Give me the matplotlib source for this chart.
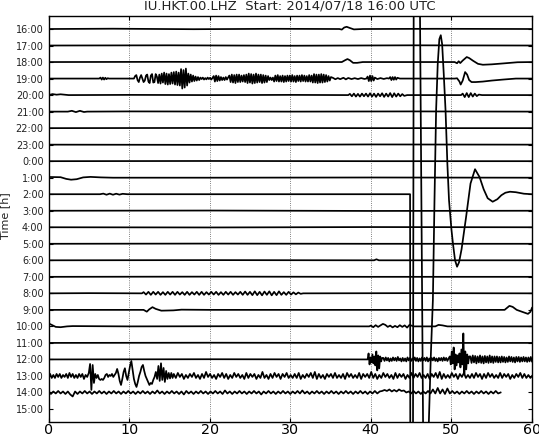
import numpy as np
import matplotlib
matplotlib.use('Agg')
import matplotlib.pyplot as plt

# ---------------------------------------------------------------- labels
TITLE = 'IU.HKT.00.LHZ  Start: 2014/07/18 16:00 UTC'
HOUR_LABELS = ['16:00', '17:00', '18:00', '19:00', '20:00', '21:00', '22:00',
               '23:00', '0:00', '1:00', '2:00', '3:00', '4:00', '5:00', '6:00',
               '7:00', '8:00', '9:00', '10:00', '11:00', '12:00', '13:00',
               '14:00', '15:00']
MINUTE_TICKS = [0, 10, 20, 30, 40, 50, 60]
ROW_SPACING = 16.52          # amplitude counts between two hourly rows

# ---------------------------------------------------------------- data
# knots: minute -> amplitude ; bursts: (start minute, sample interval, samples)
r16_t = [0, 8, 18, 28, 36.1, 36.4, 36.7, 37.0, 37.4, 37.9, 39, 48, 60]
r16_a = [0, 0.3, -0.2, 0.2, 0, -0.6, 1.5, 2.2, 1.0, -0.4, 0, 0.2, 0]

r17_t = [0, 15, 30, 45, 60]
r17_a = [0, 0.2, -0.2, 0.2, 0]

r18_t = [0, 15, 30, 36.4, 36.8, 37.1, 37.4, 37.8, 38.3, 39.0, 50.4, 50.7, 50.9,
         51.1, 51.4, 51.9, 52.2, 52.7, 53.3, 53.9, 55.0, 56.4, 58.2, 60]
r18_a = [0, 0.2, 0, 0, 1.8, 3.0, 1.8, -0.8, -0.8, 0, 0, -1.2, 0.8,
         -1.0, 1.5, 5.0, 4.0, 1.2, -1.8, -2.7, -2.3, -1.4, -0.2, 0]

r19_t = [0, 6.3, 6.45, 6.6, 6.75, 6.9, 7.05, 7.2, 7.35, 7.5, 10.45,
         35.3, 35.6, 35.9, 36.2, 36.6, 36.9, 37.2, 37.6, 38.0, 38.4, 38.8, 39.2, 39.45,
         40.8, 41.2, 41.6, 42.0, 42.25,
         43.6, 44.5, 50.4, 50.7, 51.0, 51.15, 51.4, 51.7, 51.95, 52.2, 52.5, 53.0,
         53.9, 55.0, 56.4, 58.0, 60]
r19_a = [0, 0, 1, -1, 1, -1, 0.8, -0.6, 0.4, 0, 0,
         0.7, -0.7, 0.5, -0.6, 0.8, -0.8, 0.6, -0.5, 0.4, -0.5, 0.5, -0.4, 0,
         -0.5, 0.5, -0.4, 0.4, 0,
         0, 0, 0, 0.3, -3, -6, -2, 6.5, 4, -1.5, -3.5, -3.5,
         -3.0, -2, -1, 0, 0]
r19_b1 = [0, 2.5, 3.5, -1.5, -3.5, 1, 3.5, 0, -3.5, -2, 3,
          4, -3, -4.5, 3, 4.5, -4, -3.5, 4.5, 2, -4.5, 4,
          -5, 5, -4, 6, -5.5, 5, -6, 4.5, -5.5, 6, -5,
          6.5, -6, 7, -6.5, 6, -7,
          9.5, -10, 8.5, -9, 10,
          -7, 5, -4, 4, -3, 3,
          -2.5, 2, -2, 1.5, -1.5,
          1, -0.5, 1, -1, 0.5, -0.8, 1, -0.5, 0.8, -1, 0.6,
          2.5, -3, 3, -2.5, 2.5, -2,
          1.5, -1.5, 1, -1.5, 1.5, -1, 1.2,
          3, -3.5, 4, -4, 3.5, -4.5, 4, -3.5, 4, -3.5, 3, -3, 3.5,
          -3.5, 4, -4.5, 5, -4, 4.5, -5, 4, -4.5, 5, -4, 4, -3.5, 4, -4.5, 3.5,
          -4, 3, -3.5, 2.5,
          -1.5, 1, -1.5, 1,
          -3, 3, -2.5, 3.5, -3, 2.5, -3, 3, -3.5, 2.5, -3, 3, -2.5, 3, -3, 3.5,
          -3, 2.5, -3.5, 3, -2.5, 3, -3, 3.5, -2.5, 3, -3, 2.5, -3, 3.5, -3, 3,
          -4, 4.5, -4, 4, -4.5, 4, -4, 4.5, -4, 4, -3.5, 3.5, -3, 2.5, -2, 1.5]
r19_b2 = [2, -2.5, 3, -2.5, 2.5, -2, 1]
r19_b3 = [1.5, -1.5, 1.5, -1.2, 1.5, -1, 0.8]

r20_t = [0, 0.5, 1.0, 1.5, 2.5, 10, 20, 30, 37.2, 44.5, 51.2, 53.8, 60]
r20_a = [0, 1.0, 0.4, 0.8, 0, 0.2, 0, 0.2, 0, 0, 0, 0, 0]
r20_b1 = [1.2, -1.2, 1.5, -1.5, 1.2, -1.5, 1.5, -1.2, 1.5, -1.5, 1.8, -1.5, 1.5,
          -1.8, 1.5, -1.2, 1.8, -1.8, 1.5, -1.5, 2, -2, 1.8, -1.5, 1.5, -1.2, 1.0, -0.8]
r20_b2 = [1.5, -2, 2, -2, 2, -1.5, 1.5, -1, 0.5]

r21_t = [0, 2.4, 2.9, 3.4, 3.9, 4.4, 4.8, 10, 30, 45, 60]
r21_a = [0, 0, 0.8, -0.5, 0.8, -0.4, 0, 0.2, 0, 0.2, 0]

r22_t = [0, 20, 40, 60]
r22_a = [0, 0.2, 0, 0]
r23_t = [0, 20, 40, 60]
r23_a = [0, -0.2, 0.2, 0]
r00_t = [0, 20, 40, 60]
r00_a = [0, 0.2, 0, 0]

r01_t = [0, 1.5, 2.2, 2.8, 3.5, 4.3, 5.2, 6.5, 8, 20, 40, 60]
r01_a = [0.7, 0.5, -1.2, -2, -1.5, 0.3, 0.8, 0.3, 0, 0, 0.2, 0]

r02_t = [0, 6.4, 6.8, 7.2, 7.6, 8.0, 8.4, 8.8, 9.2, 9.8, 20, 30, 40, 44.87, 44.9,
         45.22, 45.34, 45.99, 46.64, 46.85, 47.05, 47.2, 47.45, 47.7, 47.9, 48.1,
         48.3, 48.5, 48.68, 48.85, 49.05, 49.27, 49.5, 49.7, 50.0, 50.2, 50.45,
         50.7, 50.95, 51.26, 51.8, 52.37, 52.93, 53.5, 54.0, 54.5, 55.12, 55.7,
         56.2, 56.7, 57.27, 58.0, 59.0, 60]
r02_a = [0, 0, 0.6, -0.5, 0.6, -0.5, 0.5, -0.4, 0.4, 0, 0, 0, 0, 0, -300,
         -300, 300, 300, -400, -470, -380, -227.5, -160, -105.8, -5.8, 84,
         130, 155, 159, 150, 120, 84, 30, -5.8, -35, -50, -66,
         -72.5, -68, -55, -24, 10.7, 25, 17, 5, -4, -7.5, -5,
         -1, 1.5, 2.5, 2.0, 0.5, 0]

r03_t = [0, 20, 40, 60]
r03_a = [0, 0.2, -0.2, 0]
r04_t = [0, 20, 40, 60]
r04_a = [0, -0.2, 0.2, 0]
r05_t = [0, 20, 40, 60]
r05_a = [0, 0.2, 0, 0]
r06_t = [0, 20, 40.4, 40.7, 41.0, 60]
r06_a = [0, 0.2, 0, 1.0, 0, 0]
r07_t = [0, 20, 40, 60]
r07_a = [0, 0.2, 0, 0]

r08_t = [0, 5, 11.6, 31.6, 45, 60]
r08_a = [0, 0.2, 0, 0, 0.2, 0]
r08_b1 = [1.2, -1.2, 1.5, -1.5, 1.5, -1.2, 1.5, -1.5, 1.2, -1.5,
          1.5, -1.2, 1.5, -1.5, 1.5, -1.2, 1.2, -1.5, 1.5, -1.5,
          1.2, -1.2, 1.5, -1.5, 1.5, -1.5, 1.2, -1.2, 1.5, -1.2,
          1.5, -1.5, 1.2, -1.5, 1.5, -1.2, 1.5, -1.5, 1.2, -1.2,
          1.5, -1.5, 1.8, -1.5, 1.5, -1.8, 2, -1.8, 1.5, -2,
          1.8, -1.5, 2, -2, 1.5, -1.8, 2, -1.5, 1.2, -1.5,
          1.5, -1.2, 1, -1, 0.8, -0.5]

r09_t = [0, 11.8, 12.2, 12.5, 12.9, 13.3, 14.0, 15.5, 16.5, 20, 40, 56.6, 57.2,
         57.6, 58.1, 58.9, 59.5, 59.8, 60]
r09_a = [0, 0, -1.8, 0.5, 2.7, 1.0, -0.8, -0.5, 0.2, 0, 0, 0, 4.0,
         3.0, 0, -2.3, -4.0, -2.0, 2.0]

r10_t = [0, 0.4, 0.9, 1.5, 2.3, 3.0, 10, 25, 39.8, 45.3, 48.0, 48.4, 48.9, 49.5, 60]
r10_a = [3, 1.5, -0.5, -0.8, 0, 0.3, 0, 0.2, 0, 0, 0, 1.5, 1.0, 0, 0]
r10_b1 = [0.8, -0.8, 1.2, -0.5, 1.0, 2.5, 1.5, -0.5, 0.8, -1.0, 0.5, -0.8, 1.2,
          -0.5, 1.0, -1.2, 1.5]

r11_t = [0, 20, 40, 60]
r11_a = [0, 0.2, 0, 0]

r12_t = [0, 20, 39.55]
r12_a = [0, 0.2, 0]
r12_b1 = [0, 6, -5, 2, -3, 5, -4, 3, -6, 8, -11, 4, -9, 3, -2, 1.5]
r12_b2 = [1.5, -1.5, 2, -1, 1.5, -2, 1, -1.5, 2, -1, 1.5, -1.5, 2.5, -1, 1, -2,
          1.5, -1.5, 1, -2, 2, -1, 1.5, -1.5, 1, -1, 2, -1.5, 1.5, -2, 1, -1.5,
          2, -1, 1.5, -1.5, 2, -2, 1, -1.5, 1.5, -1, 2, -1.5, 1, -2, 1.5, -1,
          1.5, -1.5, 2, -1, 1.5, -1.5, 1]
r12_b3 = [3, -5, 8, -4, 12, -10, 5, -6, 4, -3, 6, -8, 10, -5, 26, -15, 8, -10,
          5, -4, 3]
r12_b4 = [3, -3.5, 4, -3, 3.5, -4, 3, -3, 4, -3.5, 3, -4, 3.5, -3, 3, -3.5, 4,
          -3, 3, -3.5, 3, -2.5, 3, -3, 2.5, -3, 3, -2.5, 2.5, -3, 2, -2.5, 3,
          -2, 2.5, -2.5, 2, -3, 2.5, -2, 2.5, -2.5, 2, -2, 2.5, -2, 2, -2.5, 2,
          -2, 2.5, -2]

r13_t = [60]
r13_a = [0]
r13_b1 = [0, 2, -2, 1, -2, 2, -1, 2, -2, 1, -1, 2, -2, 3, -1, 2, -2, 1, -2, 2,
          -1, 2, -3, 1, -1]
r13_b2 = [3, 12, -14, 11, -7, 2,
          -2, 1, -3, -4, -3, -4, -2, 1, 2, -1, 1, 0, 2, -1, 1,
          3, 7, 2, -5, -9, -3, 4, 7.7, 0,
          -4, 3, 10, 15, 6,
          -3, -8, -11, -6, 0,
          4, 9, 11, 5, 0,
          -3, -6, -9, -7, -8, -4, -1,
          4, -3, 10, -5, 12.7, -4, 8, -6, 5,
          -3, 3, -2.5, 3, -2]
r13_b3 = [2, -2, 3, -1, 2, -3, 1, -2, 2, -1, 3, -2, 1, -3, 2, -2, 4, -1, 2, -2,
          1, -3, 2, -1, 3, -2, 2, -3, 1, -2, 3, -1, 2, -2, 1, -3, 3, -2, 2, -1,
          2, -3, 1, -2, 4, -2, 1, -3, 2, -2, 3, -1, 2, -3, 2, -1, 3, -2, 1, -2,
          2, -2, 3, -3, 1, -2, 2, -1, 3, -2, 4, -3, 2, -2, 1, -3, 2, -1, 2, -2,
          3, -2, 1, -2, 2, -3, 3, -1, 2, -2, 1, -2, 3, -3, 2, -1, 2, -2, 4, -2,
          2, -3, 1, -2, 3, -1, 2, -2, 1, -3, 3, -2, 2, -1, 2, -3, 1, -2, 3, -2,
          2, -1, 3, -2, 1, -2, 2, -3, 2, -1, 3, -2, 4, -3, 2, -2, 1, -2, 3, -1,
          2, -3, 2, -1, 3, -2, 1, -2, 2, -2, 3, -1, 2, -3, 2, -2, 3, -1, 2, -2,
          1, -2, 3, -2, 2, -1, 2, -3, 1, -2, 2, -1, 3, -2, 2, -2, 1, -2]

r14_t = []
r14_a = []
r14_b1 = [1.5, -1.5, 1, -1, 1.5, -1, 1, -1.5, 1, -2,
          -4, 1, -1.5, 1, -1, 1.5, -1, 1, -1.5, 1,
          -1, 1.5, -1, 1, -1.5, 1, -1, 1.5, -1, 1,
          -1.5, 1, -1, 1.5, -1, 1, -1.5, 1, -1, 1.5,
          -1, 1, -1.5, 1, -1, 2, -1, 1, -1.5, 1,
          -1, 1.5, -1, 1, -1.5, 1, -2, 1.5, -1, 1,
          -1.5, 1, -1, 1.5, -1, 1, -1.5, 1, -1, 1.5,
          -1, 1, -1.5, 2, -1, 1, -1.5, 1, -1, 1.5,
          -1, 1, -1.5, 1, -1, 1.5, -1, 1, -2, 1,
          -1, 1.5, -1, 1, -1.5, 1, -1, 1.5, -1, 1,
          -1.5, 1, -1, 1.5, -1, 2, -1, 1, -1.5, 1,
          -1, 1.5, -1, 1, -1.5, 1, -1, 1.5, -1, 1,
          -1.5, 1, -1, 1.5, -1, 1, -1.5, 1, -1, 1.5,
          -1, 1, -1.5, 1, -1, 1.5, -1, 1, 1.5, 2.5,
          1.5, 3, 1, 2.5, 1, 3, 1.5, 2, 0, 1,
          -1, 1.5, -1, 1, -1.5, 1, -1, 1.5, -1, 3,
          -1, 4.5, -1, 3, -1.5, 4, -1, 1.5, -1, 1,
          -1.5, 1, -1, 1.5, -1, 1, -1.5, 1, -1, 1.5,
          -1, 1, -1.5, 1, -1, 1.5, -1, 0]

ROWS = [
    (r16_t, r16_a, []),
    (r17_t, r17_a, []),
    (r18_t, r18_a, []),
    (r19_t, r19_a, [(10.6, 0.15, r19_b1), (39.6, 0.15, r19_b2), (42.4, 0.15, r19_b3)]),
    (r20_t, r20_a, [(37.4, 0.25, r20_b1), (51.4, 0.25, r20_b2)]),
    (r21_t, r21_a, []),
    (r22_t, r22_a, []),
    (r23_t, r23_a, []),
    (r00_t, r00_a, []),
    (r01_t, r01_a, []),
    (r02_t, r02_a, []),
    (r03_t, r03_a, []),
    (r04_t, r04_a, []),
    (r05_t, r05_a, []),
    (r06_t, r06_a, []),
    (r07_t, r07_a, []),
    (r08_t, r08_a, [(11.8, 0.3, r08_b1)]),
    (r09_t, r09_a, []),
    (r10_t, r10_a, [(40.0, 0.3, r10_b1)]),
    (r11_t, r11_a, []),
    (r12_t, r12_a, [(39.6, 0.12, r12_b1), (41.55, 0.15, r12_b2),
                    (49.8, 0.12, r12_b3), (52.35, 0.15, r12_b4)]),
    (r13_t, r13_a, [(0.0, 0.2, r13_b1), (5.0, 0.16, r13_b2), (15.55, 0.25, r13_b3)]),
    (r14_t, r14_a, [(0.0, 0.3, r14_b1)]),
    None,   # 15:00 - no data
]


def build(knot_t, knot_a, bursts):
    t = list(knot_t)
    a = list(knot_a)
    for t0, dt, vals in bursts:
        t += [t0 + dt * k for k in range(len(vals))]
        a += list(vals)
    t = np.asarray(t, float)
    a = np.asarray(a, float)
    order = np.argsort(t, kind='stable')
    t, a = t[order], a[order]
    keep = t <= 60.0001
    return t[keep], a[keep]


# ---------------------------------------------------------------- figure
W, H = 539, 436
fig = plt.figure(figsize=(W / 100, H / 100), dpi=100)
ax_l, ax_r, ax_t, ax_b = 48.5, 532.0, 16.0, 421.7
ax = fig.add_axes([ax_l / W, 1 - ax_b / H, (ax_r - ax_l) / W, (ax_b - ax_t) / H])

for i, row in enumerate(ROWS):
    if row is None:
        continue
    t, a = build(*row)
    ax.plot(t, a - i * ROW_SPACING, color='k', lw=1.25, solid_joinstyle='round')

ax.set_xlim(0, 60)
ax.set_ylim(-23 * ROW_SPACING - 12.7, 13.0)
ax.set_xticks(MINUTE_TICKS)
ax.set_xticklabels([str(m) for m in MINUTE_TICKS], fontsize=10.3)
ax.set_yticks([-i * ROW_SPACING for i in range(len(HOUR_LABELS))])
ax.set_yticklabels(HOUR_LABELS, fontsize=7, color='#222222')
ax.tick_params(axis='both', direction='in', length=3, width=0.8,
               top=True, right=True)
ax.tick_params(axis='x', pad=1.0)
ax.tick_params(axis='y', pad=3.5)
ax.xaxis.grid(True, linestyle=':', color='0.35', linewidth=0.6)
for s in ax.spines.values():
    s.set_linewidth(1.0)

ax.set_ylabel('Time [h]', fontsize=8, color='#222222')
ax.yaxis.set_label_coords((10.5 - ax_l) / (ax_r - ax_l), 0.507)
ax.text(0.5, 1 + 6.7 / (ax_b - ax_t), TITLE, transform=ax.transAxes,
        ha='center', va='baseline', fontsize=9.5, color='#222222')

fig.savefig('out.png', dpi=100)
